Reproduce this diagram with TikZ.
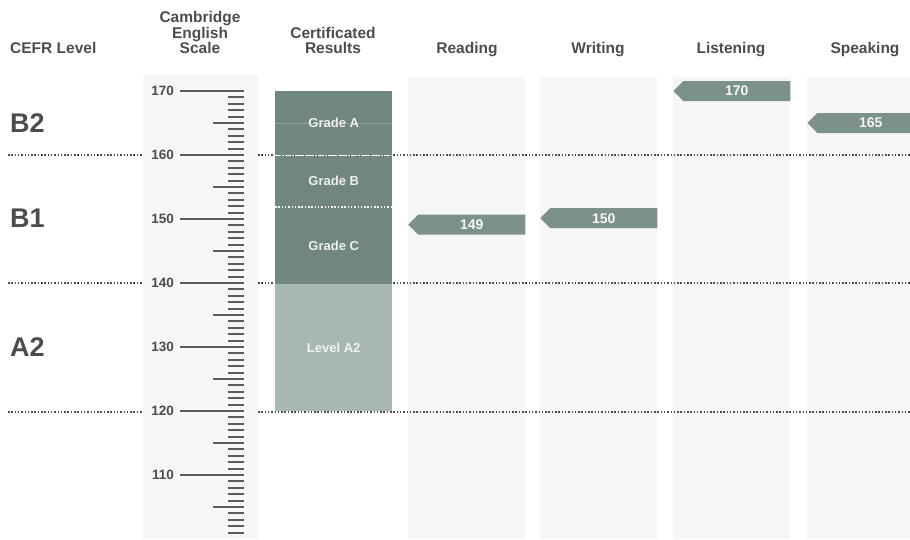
\documentclass[tikz,border=0pt]{standalone}
\usepackage{fontspec}
\setmainfont{Liberation Sans}
\usepackage{tikz}
\usetikzlibrary{positioning, shapes.symbols}

\definecolor{txtgray}{HTML}{4C4C4C}
\definecolor{tickgray}{HTML}{5C5C5C}
\definecolor{panelgray}{HTML}{F5F6F5}
\definecolor{gradedark}{HTML}{70867F}
\definecolor{gradelight}{HTML}{A8B7B4}
\definecolor{taggray}{HTML}{7D918C}

\begin{document}
\begin{tikzpicture}[
    x=1pt, y=-1pt,
    head/.style={font=\fontsize{15.5}{15.5}\selectfont\bfseries, text=txtgray, align=center, inner sep=0pt, text depth=0pt, anchor=south},
    cefr/.style={font=\fontsize{27}{27}\selectfont\bfseries, text=txtgray, inner sep=0pt, anchor=west},
    num/.style={font=\fontsize{13.5}{13.5}\selectfont\bfseries, text=txtgray, inner sep=0pt, anchor=east},
    panel/.style={fill=panelgray, draw=none},
    gradebox/.style={fill=#1, draw=none, minimum width=117pt, inner sep=0pt, anchor=north west},
    grade/.style={font=\fontsize{13}{13}\selectfont\bfseries, text=white!88!gradedark},
    scoretag/.style={shape=signal, signal to=west, signal from=nowhere, fill=taggray, minimum width=117pt, minimum height=20pt, inner sep=0pt, font=\fontsize{14}{14}\selectfont\bfseries, text=white!92!taggray, anchor=west},
    levelline/.style={draw=#1, line width=1.8pt, dash pattern=on 1.5pt off 1.8pt},
    scaletick/.style={draw=tickgray, line width=2pt},
]
\clip (0,0) rectangle (910,539);

% === Column headers ===
\node[head, anchor=south west] at (10,54) (cefr-head) {CEFR Level};
\node[head] at (200,54) (scale-head) {Cambridge\\English\\Scale};
\node[head] at (333,54) (cert-head) {Certificated\\Results};
\node[head] at (467,54) (read-head) {Reading};
\node[head] at (598,54) (write-head) {Writing};
\node[head] at (731,54) (listen-head) {Listening};
\node[head] at (865,54) (speak-head) {Speaking};

% === Background panels ===
\fill[panel] (143,75) rectangle (258,539);
\foreach \x in {408,540,673,807}
    \fill[panel] (\x,77) rectangle ++(117,462);

% === Cambridge English Scale ===
\foreach \v in {101,...,170} {
    \pgfmathsetmacro\ty{155+(160-\v)*6.4}
    \draw[scaletick] (228,\ty) -- (244,\ty);
}
\foreach \v in {105,115,...,165} {
    \pgfmathsetmacro\ty{155+(160-\v)*6.4}
    \draw[scaletick] (213,\ty) -- (244,\ty);
}
\foreach \v in {110,120,...,170} {
    \pgfmathsetmacro\ty{155+(160-\v)*6.4}
    \draw[scaletick] (180,\ty) -- (244,\ty);
    \node[num] at (174,\ty) (s\v) {\v};
}

% === CEFR levels ===
\node[cefr] at (10,123) (b2) {B2};
\node[cefr] at (10,218.6) (b1) {B1};
\node[cefr] at (10,347) (a2) {A2};

\foreach \y in {155,283,412} {
    \draw[levelline=txtgray] (8,\y) -- (142,\y);
    \draw[levelline=txtgray] (258,\y) -- (910,\y);
}

% === Certificated results ===
\node[gradebox=gradedark, minimum height=64pt] at (275,91) (grade-a) {};
\node[gradebox=gradedark, minimum height=51.2pt] at (grade-a.south west) (grade-b) {};
\node[gradebox=gradedark, minimum height=76.8pt] at (grade-b.south west) (grade-c) {};
\node[gradebox=gradelight, minimum height=127pt] at (grade-c.south west) (level-a2) {};

\draw[white!22!gradedark, line width=0.8pt] (grade-a.west) -- (grade-a.east);
\draw[levelline=white!92!gradedark] (grade-a.south west) -- (grade-a.south east);
\draw[levelline=white!92!gradedark] (grade-b.south west) -- (grade-b.south east);

\node[grade] at (grade-a) {Grade A};
\node[grade] at (grade-b) {Grade B};
\node[grade] at (grade-c) {Grade C};
\node[grade, text=white!85!gradelight] at (level-a2) {Level A2};

% === Skill scores ===
\node[scoretag] at (408,224.6) (read-score) {149};
\node[scoretag] at (540,218.2) (write-score) {150};
\node[scoretag] at (673,91) (listen-score) {170};
\node[scoretag] at (807,123) (speak-score) {165};

\end{tikzpicture}
\end{document}
